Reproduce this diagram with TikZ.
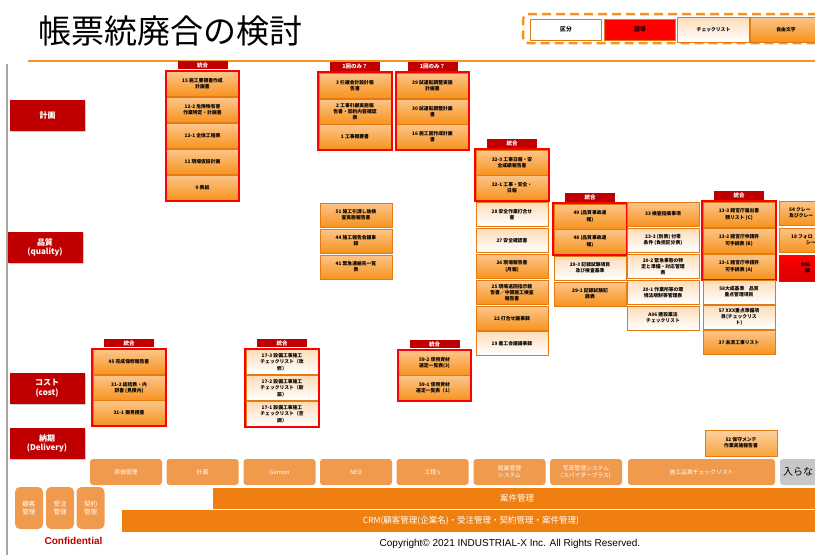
\documentclass[tikz,border=0pt]{standalone}
\usepackage{fontspec}
\setmainfont{Noto Sans CJK JP}
\newfontfamily\lsans{Liberation Sans}
\usetikzlibrary{positioning, fit, shadows}

\definecolor{tabred}{HTML}{C00000}
\definecolor{bxtop}{HTML}{FCC58A}
\definecolor{bxbot}{HTML}{F7931E}
\definecolor{bxline}{HTML}{E57A12}
\definecolor{sysor}{HTML}{F09A4E}
\definecolor{baror}{HTML}{EE7F10}
\definecolor{legred}{HTML}{FF0000}

\begin{document}
\begin{tikzpicture}[x=1pt, y=-1pt,
  box/.style={draw=bxline, line width=.7pt, top color=bxtop, bottom color=bxbot, minimum width=72pt, minimum height=25pt, inner sep=1pt, align=center, font=\fontsize{4.8}{6.2}\selectfont\bfseries},
  chk/.style={box, top color=bxtop!60, bottom color=white},
  grp/.style={draw=red, line width=2pt, inner sep=.6pt},
  tab/.style={fill=tabred, text=white, minimum width=50pt, minimum height=8.5pt, inner sep=0pt, font=\fontsize{5.5}{6}\selectfont\bfseries},
  cat/.style={fill=tabred, text=white, minimum width=75pt, minimum height=31pt, align=center, inner sep=0pt, font=\fontsize{8}{9.5}\selectfont\bfseries, drop shadow={shadow xshift=1.2pt, shadow yshift=-1.2pt, fill=black!40}},
  leg/.style={minimum width=71pt, minimum height=21pt, inner sep=0pt, font=\fontsize{5.8}{6}\selectfont\bfseries},
  sys/.style={fill=sysor, rounded corners=3pt, text=white, minimum width=72pt, minimum height=26pt, align=center, inner sep=0pt, font=\fontsize{5.8}{7}\selectfont},
  bar/.style={fill=baror, text=white, minimum height=21pt, inner sep=0pt, font=\fontsize{8.5}{9}\selectfont},
 ]
\fill[white] (0,0) rectangle (815,555);
\useasboundingbox (0,0) rectangle (815,555);

% title and legend
\node[anchor=west, font=\fontsize{33}{33}\selectfont] (title) at (35,31) {帳票統廃合の検討};
\coordinate (ls) at (28,61); \coordinate (le) at (815,61);
\draw[bxbot, line width=2.5pt] (ls) -- (le);
\coordinate (gl1) at (7,64); \coordinate (gl2) at (7,555);
\draw[black!35, line width=1.5pt] (gl1) -- (gl2);
\node[draw=bxbot, line width=2.5pt, dash pattern=on 9pt off 5pt, rounded corners=5pt, minimum width=299pt, minimum height=29pt] (legend) at (672.5,28.5) {};
\node[leg, draw=bxline, fill=white] (lg1) at (566,29.5) {区分};
\node[leg, draw=bxline, fill=legred] (lg2) at (640,29.5) {図等};
\node[leg, chk] (lg3) at (713.5,29.5) {チェックリスト};
\node[leg, box] (lg4) at (786,29.5) {自由文字};

% categories
\node[cat] (kei) at (47.5,115.5) {計画};
\node[cat] (hin) at (45,247.5) {品質\\(quality)};
\node[cat] (cos) at (47,388) {コスト\\(cost)};
\node[cat] (nou) at (47,443.5) {納期\\(Delivery)};

% planning
\node[box] (p15) at (202.5,84) {15 施工要領書作成\\計画書};
\node[box] (p122) at (202.5,110) {12-2 危険物有害\\作業特定・計画書};
\node[box] (p121) at (202.5,136) {12-1 全体工程表};
\node[box] (p11) at (202.5,162) {11 現場仮設計画};
\node[box] (p0) at (202.5,187.5) {0 表紙};
\node[grp, fit=(p15)(p0)] (g1) {};
\node[tab, anchor=south] (t1) at (g1.north) {統合};

\node[box] (p3) at (355,85.5) {3 引継会計設計報\\告書};
\node[box] (p2) at (355,111.5) {2 工事引継実施報\\告書・契約内容確認\\表};
\node[box] (p1) at (355,137) {1 工事概要書};
\node[grp, fit=(p3)(p1)] (g2) {};
\node[tab, anchor=south] (t2) at (g2.north) {1回のみ？};

\node[box] (p39) at (432.5,85.5) {39 試運転調整実施\\計画書};
\node[box] (p30) at (432.5,111.5) {30 試運転調整計画\\書};
\node[box] (p16) at (432.5,137) {16 施工図作成計画\\書};
\node[grp, fit=(p39)(p16)] (g3) {};
\node[tab, anchor=south] (t3) at (g3.north) {1回のみ？};

% quality
\node[box] (q323) at (512,162.5) {32-3 工事日報・安\\全成績報告書};
\node[box] (q321) at (512,187.5) {32-1 工事・安全・\\日報};
\node[grp, fit=(q323)(q321)] (g4) {};
\node[tab, anchor=south] (t4) at (g4.north) {統合};
\node[chk, minimum height=24pt] (q28) at (512,214.5) {28 安全作業打合せ\\書};
\node[chk, minimum height=24pt] (q27) at (512,240.5) {27 安全確認書};
\node[box, minimum height=24pt] (q26) at (512,266.5) {26 現場報告書\\(月報)};
\node[box, minimum height=24pt] (q25) at (512,292.5) {25 現場巡回指示報\\告書／中間施工検査\\報告書};
\node[box, minimum height=24pt] (q22) at (512,318.5) {22 打合せ議事録};
\node[chk, minimum height=24pt] (q19) at (512,343.5) {19 着工会議議事録};

\node[box, minimum height=24pt] (q51) at (356,215) {51 施工引渡し後検\\査実施報告書};
\node[box, minimum height=24pt] (q44) at (356,241) {44 施工報告会議事\\録};
\node[box, minimum height=24pt] (q41) at (356,267) {41 緊急連絡先一覧\\表};

\node[box] (q49) at (590,216.5) {49 (品質事故速\\報)};
\node[box] (q48) at (590,241.5) {48 (品質事故速\\報)};
\node[grp, fit=(q49)(q48)] (g5) {};
\node[tab, anchor=south] (t5) at (g5.north) {統合};
\node[chk, minimum height=24pt] (q293) at (590,268) {29-3 記録試験項目\\及び検査基準};
\node[box, minimum height=24pt] (q291) at (590,294) {29-1 記録試験記\\録表};

\node[box, minimum height=24pt] (q33) at (663,214) {33 検査指摘事項};
\node[chk, minimum height=24pt] (q233) at (663,240) {23-3 (別表) 付帯\\条件 (負担区分表)};
\node[chk, minimum height=24pt] (q202) at (663,266.5) {20-2 緊急事態の特\\定と準備・対応管理\\表};
\node[chk, minimum height=24pt] (q201) at (663,292.5) {20-1 作業所等の環\\境法規制等管理表};
\node[chk, minimum height=24pt] (qa06) at (663,318) {A06 建設業法\\チェックリスト};

\node[box] (q133) at (739,214.5) {13-3 諸官庁届出書\\類リスト (C)};
\node[box] (q132) at (739,240.5) {13-2 諸官庁申請許\\可手続表 (B)};
\node[box] (q131) at (739,266.5) {13-1 諸官庁申請許\\可手続表 (A)};
\node[grp, fit=(q133)(q131)] (g6) {};
\node[tab, anchor=south] (t6) at (g6.north) {統合};
\node[chk, minimum height=24pt] (q58) at (739,292) {58大成基準　品質\\重点管理項目};
\node[chk, minimum height=24pt] (q57) at (739,317) {57 XXX重点準備項\\目(チェックリス\\ト)};
\node[box, minimum height=24pt] (q37) at (739,342.5) {37 未済工事リスト};

\node[box, minimum height=24pt] (q54) at (815,213) {};
\node[anchor=west, align=left, inner sep=0pt, font=\fontsize{4.8}{6.2}\selectfont\bfseries] (q54t) at (789,213) {54 クレー\\及びクレー};
\node[box, minimum height=24pt] (q18) at (815,240) {};
\node[anchor=west, align=left, inner sep=0pt, font=\fontsize{4.8}{6.2}\selectfont\bfseries] (q18t) at (791,240) {18 フォロ\\\hspace{15pt}シー};
\node[box, top color=legred, bottom color=legred!85!black, draw=legred, minimum height=26pt] (q806) at (815,268) {};
\node[anchor=west, align=left, inner sep=0pt, font=\fontsize{4.8}{6.2}\selectfont\bfseries] (q806t) at (801,268) {806\\\hspace{4pt}細};

% cost
\node[box] (c45) at (129,362) {45 完成保修報告書};
\node[box] (c312) at (129,388) {31-2 総括表・内\\訳書 (見積内)};
\node[box] (c311) at (129,413) {31-1 御見積書};
\node[grp, fit=(c45)(c311)] (g7) {};
\node[tab, anchor=south] (t7) at (g7.north) {統合};

\node[chk] (c173) at (282,362) {17-3 設備工事施工\\チェックリスト（改\\修）};
\node[chk] (c172) at (282,388) {17-2 設備工事施工\\チェックリスト（新\\築）};
\node[chk] (c171) at (282,414) {17-1 設備工事施工\\チェックリスト（空\\調）};
\node[grp, fit=(c173)(c171)] (g8) {};
\node[tab, anchor=south] (t8) at (g8.north) {統合};

\node[box] (c592) at (434.5,363) {59-2 使用資材\\選定一覧表(3)};
\node[box] (c591) at (434.5,388) {59-1 使用資材\\選定一覧表（1）};
\node[grp, fit=(c592)(c591)] (g9) {};
\node[tab, anchor=south] (t9) at (g9.north) {統合};

% delivery
\node[box, top color=bxtop!80, bottom color=bxbot!85, minimum height=26pt] (d52) at (741,443) {52 保守メンテ\\作業実施報告書};

% systems
\node[sys] (s1) at (126,472) {原価管理};
\node[sys] (s2) at (202.5,472) {計画};
\node[sys] (s3) at (279.5,472) {Garoon};
\node[sys] (s4) at (356,472) {NEO};
\node[sys] (s5) at (432.5,472) {工程's};
\node[sys] (s6) at (509.5,472) {就業管理\\システム};
\node[sys] (s7) at (586,472) {写真管理システム\\(スパイダープラス)};
\node[sys, minimum width=147pt] (s8) at (701.5,472) {施工品質チェックリスト};
\node[sys, fill=black!22, minimum width=50pt] (s9) at (805,472) {};
\node[anchor=west, inner sep=0pt, font=\fontsize{10}{10}\selectfont] (s9t) at (783,472) {入らな};

\node[sys, rounded corners=5pt, minimum width=28pt, minimum height=42pt, font=\fontsize{6.5}{7.5}\selectfont] (m1) at (29,508) {顧客\\管理};
\node[sys, rounded corners=5pt, minimum width=28pt, minimum height=42pt, font=\fontsize{6.5}{7.5}\selectfont] (m2) at (60,508) {受注\\管理};
\node[sys, rounded corners=5pt, minimum width=28pt, minimum height=42pt, font=\fontsize{6.5}{7.5}\selectfont] (m3) at (90.5,508) {契約\\管理};
\node[bar, minimum width=608pt] (anken) at (517,498) {案件管理};
\node[bar, minimum width=698pt, minimum height=22pt] (crm) at (471,521) {CRM(顧客管理(企業名)・受注管理・契約管理・案件管理)};

\node[text=tabred, font=\lsans\fontsize{10}{10}\selectfont\bfseries] (conf) at (73.5,541) {Confidential};
\node[font=\lsans\fontsize{10}{10}\selectfont] (copy) at (510,544) {Copyright© 2021 INDUSTRIAL-X Inc. All Rights Reserved.};
\end{tikzpicture}
\end{document}
